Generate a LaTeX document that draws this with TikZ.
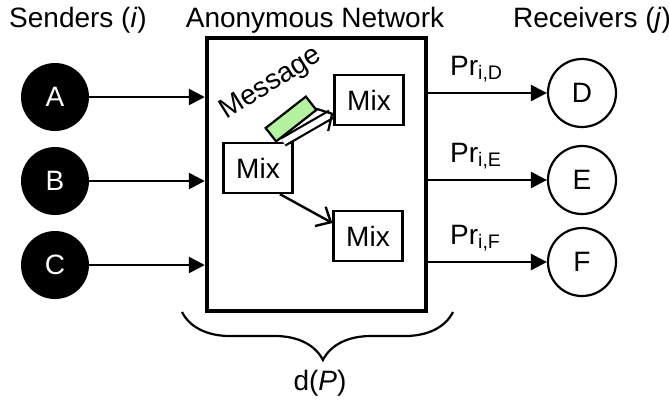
\documentclass[tikz,border=0pt]{standalone}
\usepackage{fontspec}
\setmainfont{Liberation Sans}
\usetikzlibrary{arrows.meta,decorations.pathreplacing}
\definecolor{vertmsg}{RGB}{180,242,160}

\begin{document}
\begin{tikzpicture}[x=0.5pt,y=-0.5pt,
  font=\fontsize{14}{16}\selectfont,
  emetteur/.style={circle,fill=black,text=white,minimum size=34pt,inner sep=0pt},
  recepteur/.style={circle,draw,line width=1.1pt,minimum size=34pt,inner sep=0pt},
  mix/.style={draw,line width=1.1pt,minimum width=34.5pt,minimum height=25pt,inner sep=0pt},
  fleche/.style={line width=1.3pt,-{Triangle[length=8pt,width=8pt]}},
  lien/.style={line width=1.2pt,-{Straight Barb[length=6pt,width=11pt]}}]
  \useasboundingbox (0,0) rectangle (669,404);

  % Réseau anonyme
  \node[draw,line width=2.2pt,minimum width=109.5pt,minimum height=136.5pt,inner sep=0pt] (net) at (316.5,174.5) {};

  % Titres
  \node (tS) at (78,20) {Senders (\textit{i})};
  \node (tN) at (315,20) {Anonymous Network};
  \node (tR) at (592,20) {Receivers (\textit{j})};

  % Emetteurs et récepteurs
  \node[emetteur] (A) at (55,97) {A};
  \node[emetteur] (B) at (55,181) {B};
  \node[emetteur] (C) at (55,265) {C};
  \node[recepteur] (D) at (582,93) {D};
  \node[recepteur] (E) at (582,180) {E};
  \node[recepteur] (F) at (582,262) {F};

  % Les mix
  \node[mix] (mixT) at (369,100) {Mix};
  \node[mix] (mixM) at (258,168) {Mix};
  \node[mix] (mixB) at (368,236) {Mix};

  % Flèches d'entrée et de sortie
  \foreach \s in {A,B,C}
    \draw[fleche] (\s) -- (\s -| net.west);
  \foreach \r in {D,E,F}
    \draw[fleche] (net.east |- \r) -- (\r)
      node[pos=0,anchor=base west,xshift=7pt,yshift=9pt] (pr\r) {Pr\textsubscript{i,\r}};

  % Message d'un mix à l'autre
  \draw[lien] (mixM.-50) -- (mixB.160);
  \draw[line width=1.1pt,double=white,double distance=3pt,-{Straight Barb[length=6pt,width=13pt]}] (mixM.46) -- (mixT.200);
  \node[draw,fill=vertmsg,line width=1.1pt,rotate=38,minimum width=25.5pt,minimum height=8.5pt,inner sep=0pt] (msg) at (291,119) {};
  \node[rotate=32] (lblmsg) at (271,84) {Message};

  % Accolade
  \draw[line width=1.1pt,decorate,decoration={brace,mirror,amplitude=24pt,aspect=0.52}] (182,312) -- (453,312);
  \node (dP) at (320,383) {d(\textit{P})};
\end{tikzpicture}
\end{document}
